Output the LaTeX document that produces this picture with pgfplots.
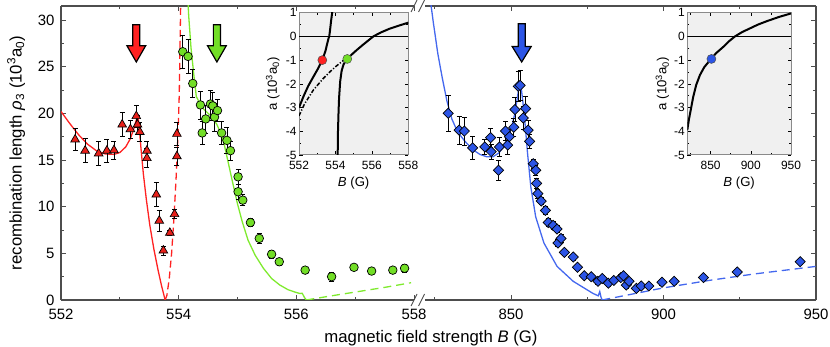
\documentclass[border=0pt]{standalone}
\usepackage{fontspec}
\setmainfont{Liberation Sans}
\usepackage{pgfplots}
\pgfplotsset{compat=1.18}
\definecolor{mred}{HTML}{E8201A}
\definecolor{lred}{HTML}{FF2222}
\definecolor{mgreen}{HTML}{72DE26}
\definecolor{lgreen}{HTML}{7FEA2E}
\definecolor{mblue}{HTML}{2C55E6}
\definecolor{lblue}{HTML}{4468EE}
\definecolor{framegray}{HTML}{4D4D4D}
\definecolor{insetbg}{HTML}{F0F0F0}
\definecolor{insetframe}{HTML}{8A8A8A}
\pgfplotsset{
  mainax/.style={scale only axis, height=294bp, ymin=0, ymax=31.5,
    axis line style={draw=framegray, line width=1.3bp},
    tick style={draw=framegray, line width=0.9bp},
    major tick length=5bp, minor tick length=3bp,
    tick label style={font=\fontsize{15}{18}\selectfont},
    /pgf/number format/assume math mode=true,
    ytick={0,5,...,30}, minor ytick={2.5,7.5,...,30},
    xticklabel style={yshift=-6bp},
    clip mode=individual},
  inax/.style={scale only axis, height=142.3bp, ymin=-5, ymax=1,
    axis background/.style={fill=insetbg},
    axis line style={draw=insetframe, line width=1bp},
    ytick={-5,-4,...,1}, minor ytick={-4.5,-3.5,...,0.5},
    tick style={black, line width=0.6bp}, major tick length=3.5bp, minor tick length=2bp,
    tick label style={font=\fontsize{12}{14}\selectfont},
    yticklabel style={xshift=1bp},
    /pgf/number format/assume math mode=true,
    xlabel={\textit{B} (G)}, ylabel={a (10\textsuperscript{3}a\textsubscript{0})},
    label style={font=\fontsize{13.2}{16}\selectfont},
    xlabel style={at={(axis description cs:0.5,-0.2)}, anchor=center},
    ylabel style={at={(axis description cs:-0.24,0.5)}, anchor=center},
    xticklabel style={yshift=-3bp}},
  ebars/.style={error bars/.cd, y dir=both, y explicit,
    error bar style={black, line width=0.6bp},
    error mark options={rotate=90, mark size=2.5bp, black, line width=0.6bp}},
}
\begin{document}
\begin{tikzpicture}
\useasboundingbox (0,0) rectangle (830bp,347bp);
% ---------------- left panel ----------------
\begin{axis}[mainax, at={(61bp,47bp)}, anchor=south west, width=353bp,
  xmin=552, xmax=558, axis x line*=box, axis y line*=left,
  xtick={552,554,556,558}, minor xtick={553,555,557},
  yticklabel style={xshift=-3bp},
  ylabel={recombination length \textit{ρ}\textsubscript{3} (10\textsuperscript{3}a\textsubscript{0})},
  ylabel style={font=\fontsize{16.8}{20}\selectfont, at={(axis description cs:-0.127,0.5)}, anchor=center}]
\addplot[lred, line width=1.3bp] coordinates {(552.00,20.2) (552.15,18.9) (552.30,17.7) (552.45,16.7) (552.60,16.0) (552.75,15.65) (552.90,15.6) (553.00,15.8) (553.10,16.4) (553.18,17.3) (553.24,18.4) (553.28,19.3) (553.31,19.5) (553.33,18.5) (553.36,16.2) (553.40,13.5) (553.45,10.8) (553.51,8.0) (553.58,5.4) (553.65,3.2) (553.71,1.5) (553.75,0.5) (553.77,0)};
\addplot[lred, line width=1.3bp, dash pattern=on 7bp off 4bp] coordinates {(553.77,0) (553.80,0.5) (553.84,2.3) (553.88,5.0) (553.92,8.8) (553.96,13.5) (553.99,18.0) (554.01,22.0) (554.02,26.0) (554.035,32)};
\addplot[lgreen, line width=1.3bp] coordinates {(554.15,33) (554.17,30.5) (554.21,27) (554.26,24) (554.30,21.8) (554.40,20.6) (554.50,20.0) (554.57,19.6) (554.65,18.8) (554.72,17.8) (554.77,16.8) (554.84,14.8) (554.91,12.8) (555.0,10.3) (555.08,8.4) (555.18,6.4) (555.30,4.8) (555.44,3.4) (555.58,2.3) (555.72,1.6) (555.86,1.1) (556.0,0.8) (556.06,0.7) (556.1,0.72) (556.14,0.25) (556.17,0)};
\addplot[lgreen, line width=1.3bp, dash pattern=on 8bp off 5bp] coordinates {(556.17,0) (556.6,0.45) (557.0,0.85) (557.5,1.35) (557.95,1.85)};
\addplot[only marks, mark=triangle*, mark size=5bp, mark options={fill=mred, draw=black, line width=0.7bp}, ebars]
 table[x=x, y=y, y error=e] {
x y e
552.24 17.2 1.2
552.41 16.0 1.3
552.64 15.7 1.3
552.78 16.0 1.2
552.90 16.05 1.0
553.04 18.8 1.3
553.18 18.3 1.0
553.28 19.7 1.2
553.30 18.8 1.0
553.34 18.0 1.0
553.46 16.0 1.0
553.46 15.2 1.0
553.62 11.3 1.3
553.67 8.5 1.1
553.74 5.3 0.5
553.85 7.2 0.3
553.93 9.2 0.5
553.97 17.8 1.2
553.97 15.4 1.0
};
\addplot[only marks, mark=*, mark size=4.3bp, mark options={fill=mgreen, draw=black, line width=0.7bp}, ebars]
 table[x=x, y=y, y error=e] {
x y e
554.07 26.6 1.8
554.16 26.1 1.8
554.24 23.2 1.5
554.37 20.9 1.5
554.40 17.9 1.2
554.46 19.4 1.5
554.54 21.0 1.5
554.58 20.8 1.5
554.61 19.6 1.5
554.66 20.3 1.2
554.73 17.9 1.2
554.82 17.1 1.4
554.88 16.0 1.0
555.01 13.2 0.8
555.01 11.6 0.8
555.09 10.7 0.6
555.22 8.3 0.4
555.37 6.6 0.5
555.58 4.9 0.4
555.71 4.1 0.4
556.15 3.2 0.3
556.60 2.5 0.5
556.98 3.5 0.3
557.28 3.1 0.3
557.64 3.2 0.3
557.84 3.4 0.4
};
\filldraw[fill=lred, draw=black, line width=1.2bp] (axis cs:553.22,29.5) -- (axis cs:553.34,29.5) -- (axis cs:553.34,27.25) -- (axis cs:553.44,27.25) -- (axis cs:553.28,25.5) -- (axis cs:553.12,27.25) -- (axis cs:553.22,27.25) -- cycle;
\filldraw[fill=mgreen, draw=black, line width=1.2bp] (axis cs:554.59,29.5) -- (axis cs:554.71,29.5) -- (axis cs:554.71,27.25) -- (axis cs:554.81,27.25) -- (axis cs:554.65,25.5) -- (axis cs:554.49,27.25) -- (axis cs:554.59,27.25) -- cycle;
\end{axis}
% ---------------- right panel ----------------
\begin{axis}[mainax, at={(425bp,47bp)}, anchor=south west, width=391bp,
  xmin=821.8, xmax=950, axis x line*=box, axis y line*=right, yticklabels={},
  xtick={850,900,950}, minor xtick={825,875,925}]
\addplot[lblue, line width=1.3bp] coordinates {(823.2,33) (824.5,29.8) (826,26.4) (827.4,23.9) (829,21.3) (830.6,19.4) (832.5,18.0) (834.9,17.0) (837.5,16.1) (839.8,15.6) (842,15.35) (844.1,15.35) (846,15.75) (847.5,16.4) (849,17.4) (850.2,18.5) (851.2,19.9) (852.0,21.5) (852.6,22.8) (853.0,23.1) (853.4,22.6) (853.9,21.2) (854.5,19.3) (855.4,15.8) (856.5,12.1) (858.1,8.9) (860.8,6.1) (865.1,3.6) (870.4,2.0) (876.9,0.7) (878.6,0.45) (879.1,0.9) (879.5,0.3) (879.9,0)};
\addplot[lblue, line width=1.3bp, dash pattern=on 8bp off 5bp] coordinates {(879.9,0) (890,0.65) (900,1.3) (915,2.1) (930,2.8) (950,3.6)};
\addplot[only marks, mark=square*, mark size=3.6bp, mark options={rotate=45, fill=mblue, draw=black, line width=0.7bp}, ebars]
 table[x=x, y=y, y error=e] {
x y e
829.4 20.0 1.9
833.0 18.2 1.5
834.7 18.1 1.5
837.4 16.3 1.2
841.4 16.4 0.8
843.3 17.4 1.0
843.5 15.9 0.8
845.9 13.9 1.1
846.2 16.4 1.0
848.2 18.1 1.0
848.9 16.6 1.0
849.5 17.5 0.8
850.9 18.5 1.0
851.3 20.4 1.3
852.4 22.9 1.6
853.0 23.0 1.6
854.0 19.5 1.2
854.8 20.5 1.3
855.6 18.2 1.0
856.1 17.0 0.8
857.3 14.6 0.5
858.1 13.9 0.5
858.4 12.5 0.5
858.8 11.4 0.5
859.9 10.6 0.4
861.3 9.6 0.4
862.2 8.3 0.4
863.8 8.0 0.4
865.1 7.6 0.4
865.4 6.1 0.4
866.4 6.6 0.4
867.5 5.1 0.3
870.4 4.6 0.3
871.8 3.5 0.3
874.0 2.6 0.3
876.3 2.5 0.3
878.5 2.0 0.3
879.9 2.3 0.3
881.9 1.8 0.3
883.7 2.1 0.3
886.0 2.4 0.3
886.9 2.6 0.3
887.8 1.6 0.3
888.7 2.0 0.3
891.1 1.25 0.3
892.7 1.5 0.3
895.2 1.5 0.3
899.5 1.9 0.3
903.5 2.0 0.3
913.1 2.4 0.3
924.2 3.0 0.3
944.8 4.1 0.3
};
\filldraw[fill=mblue, draw=black, line width=1.2bp] (axis cs:852.35,29.6) -- (axis cs:854.65,29.6) -- (axis cs:854.65,27.15) -- (axis cs:856.6,27.15) -- (axis cs:853.5,25.5) -- (axis cs:850.4,27.15) -- (axis cs:852.35,27.15) -- cycle;
\end{axis}
% ---------------- inset 1 ----------------
\begin{axis}[inax, at={(299bp,192bp)}, anchor=south west, width=109.3bp,
  xmin=552, xmax=558, xtick={552,554,556,558}, minor xtick={553,555,557}]
\addplot[black, line width=1.6bp] coordinates {(552,0) (558,0)};
\addplot[black, line width=1.5bp, dash pattern=on 4bp off 1.8bp on 1.2bp off 1.8bp] coordinates {(552,-3.35) (552.3,-2.85) (552.79,-2.26) (553.3,-1.8) (553.7,-1.49) (554.0,-1.28) (554.34,-1.07) (554.6,-0.92)};
\addplot[black, line width=2bp] coordinates {(552,-3.0) (552.24,-2.54) (552.5,-2.1) (552.79,-1.7) (553.05,-1.35) (553.28,-1.0) (553.45,-0.62) (553.55,-0.3) (553.62,-0.08) (553.66,0) (553.71,0.3) (553.76,0.65) (553.82,1.0) (553.86,1.3)};
\addplot[black, line width=2bp] coordinates {(554.12,-5.2) (554.14,-4) (554.17,-3.2) (554.2,-2.6) (554.26,-1.9) (554.34,-1.45) (554.45,-1.17) (554.65,-0.95) (554.9,-0.76) (555.16,-0.58) (555.5,-0.36) (556.08,0) (556.5,0.17) (556.99,0.33) (557.5,0.46) (558,0.58)};
\addplot[only marks, mark=*, mark size=4.5bp, mark options={fill=lred, draw=black!70, line width=0.5bp}] coordinates {(553.28,-1.0)};
\addplot[only marks, mark=*, mark size=4.5bp, mark options={fill=mgreen, draw=black!70, line width=0.5bp}] coordinates {(554.65,-0.95)};
\end{axis}
% ---------------- inset 2 ----------------
\begin{axis}[inax, at={(687.3bp,192bp)}, anchor=south west, width=103.7bp,
  xmin=821, xmax=950, xtick={850,900,950}, minor xtick={825,875,925}]
\addplot[black, line width=1.6bp] coordinates {(821,0) (950,0)};
\addplot[black, line width=2bp] coordinates {(821,-3.95) (823,-3.5) (825,-3.15) (828.4,-2.54) (832,-2.05) (836.7,-1.63) (842,-1.3) (850,-0.97) (857,-0.7) (865.8,-0.44) (873,-0.2) (880.3,0) (889,0.18) (899,0.34) (909,0.5) (919.7,0.64) (935,0.82) (950,0.97)};
\addplot[only marks, mark=*, mark size=4.5bp, mark options={fill=mblue, draw=black!70, line width=0.5bp}] coordinates {(851,-0.95)};
\end{axis}
% ---------------- break marks and x label ----------------
\draw[framegray, line width=0.9bp] (411bp,41bp) -- (417bp,53bp);
\draw[framegray, line width=0.9bp] (418.5bp,41bp) -- (424.5bp,53bp);
\draw[framegray, line width=0.9bp] (411bp,335bp) -- (417bp,347bp);
\draw[framegray, line width=0.9bp] (418.5bp,335bp) -- (424.5bp,347bp);
\node[font=\fontsize{16.8}{20}\selectfont] at (431bp,9bp) {magnetic field strength \textit{B} (G)};
\end{tikzpicture}
\end{document}
